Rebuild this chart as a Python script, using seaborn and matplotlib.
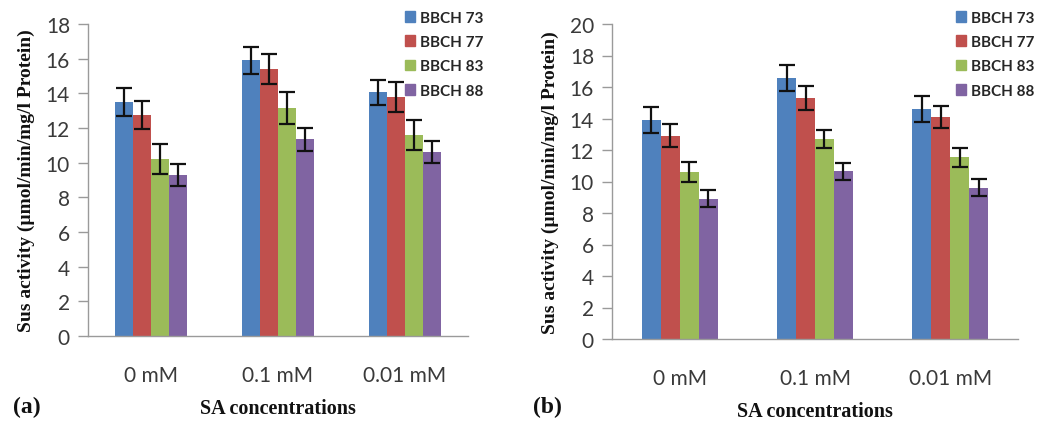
import numpy as np
import pandas as pd
import matplotlib
matplotlib.use("Agg")
import matplotlib.pyplot as plt
import seaborn as sns

categories = ["0 mM", "0.1 mM", "0.01 mM"]
stages = ["BBCH 73", "BBCH 77", "BBCH 83", "BBCH 88"]

# Panel (a) means and error bars (rows: stages, cols: categories)
a_b73 = [13.5, 15.9, 14.05]
a_b77 = [12.75, 15.4, 13.8]
a_b83 = [10.2, 13.15, 11.6]
a_b88 = [9.3, 11.35, 10.6]
a_e73 = [0.78, 0.8, 0.73]
a_e77 = [0.8, 0.85, 0.85]
a_e83 = [0.85, 0.9, 0.85]
a_e88 = [0.65, 0.65, 0.63]

# Panel (b)
b_b73 = [13.9, 16.55, 14.6]
b_b77 = [12.9, 15.3, 14.1]
b_b83 = [10.6, 12.7, 11.55]
b_b88 = [8.9, 10.65, 9.6]
b_e73 = [0.85, 0.83, 0.85]
b_e77 = [0.72, 0.74, 0.7]
b_e83 = [0.65, 0.6, 0.6]
b_e88 = [0.53, 0.53, 0.53]

colors = ["#4F81BD", "#C0504D", "#9BBB59", "#8064A2"]

sns.set_theme(style="white")
plt.rcParams["font.family"] = ["Lato", "DejaVu Sans"]

W, H = 1038, 427
fig = plt.figure(figsize=(W / 100, H / 100), dpi=100)


def make_df(vals):
    rows = []
    for s, v in zip(stages, vals):
        for c, x in zip(categories, v):
            rows.append({"cat": c, "stage": s, "val": x})
    return pd.DataFrame(rows)


def panel(rect, vals, errs, ymax, legend_anchor, width):
    ax = fig.add_axes([rect[0] / W, 1 - rect[3] / H, (rect[2] - rect[0]) / W, (rect[3] - rect[1]) / H])
    df = make_df(vals)
    sns.barplot(data=df, x="cat", y="val", hue="stage", order=categories, hue_order=stages,
                palette=colors, width=width, errorbar=None, saturation=1, ax=ax, legend=False,
                edgecolor="none", linewidth=0)
    for cont, e in zip(ax.containers, errs):
        xs = [p.get_x() + p.get_width() / 2 for p in cont.patches]
        ys = [p.get_height() for p in cont.patches]
        ax.errorbar(xs, ys, yerr=e, fmt="none", ecolor="#111111", elinewidth=1.6,
                    capsize=6, capthick=1.6)
    ax.set_xlim(-0.5, 2.5)
    ax.set_ylim(0, ymax)
    ax.set_yticks(np.arange(0, ymax + 1, 2))
    for sp in ["top", "right"]:
        ax.spines[sp].set_visible(False)
    for sp in ["left", "bottom"]:
        ax.spines[sp].set_color("#9a9a9a")
        ax.spines[sp].set_linewidth(1.0)
    ax.tick_params(axis="y", left=True, length=7, width=1, color="#9a9a9a", labelsize=15,
                   labelcolor="#3a3a3a", pad=6)
    ax.tick_params(axis="x", bottom=False, labelsize=15, labelcolor="#3a3a3a", pad=15)
    ax.set_xlabel("SA concentrations", fontfamily="Liberation Serif", fontweight="bold",
                  fontsize=14.5, color="#111111", labelpad=9)
    ax.set_ylabel("Sus activity (µmol/min/mg/l Protein)", fontfamily="Liberation Serif",
                  fontweight="bold", fontsize=14, color="#111111", labelpad=8)
    handles = [plt.Rectangle((0, 0), 1, 1, color=c) for c in colors]
    ax.legend(handles, stages, loc="upper left", bbox_to_anchor=legend_anchor,
              bbox_transform=fig.transFigure, frameon=False, handlelength=0.7,
              handleheight=0.7, handletextpad=0.3, labelspacing=0.68,
              prop={"family": "Lato", "weight": "bold", "size": 11}, borderpad=0)
    return ax


panel((88, 25, 468, 337), [a_b73, a_b77, a_b83, a_b88], [a_e73, a_e77, a_e83, a_e88],
      18, (397 / W, 1 - 4 / H), 0.57)
panel((612, 25, 1018, 340), [b_b73, b_b77, b_b83, b_b88], [b_e73, b_e77, b_e83, b_e88],
      20, (948 / W, 1 - 4 / H), 0.56)

fig.text(13 / W, 1 - 407 / H, "(a)", fontfamily="Liberation Serif", fontweight="bold",
         fontsize=17, va="center", ha="left", color="#111111")
fig.text(533 / W, 1 - 407 / H, "(b)", fontfamily="Liberation Serif", fontweight="bold",
         fontsize=17, va="center", ha="left", color="#111111")

fig.savefig("out.png", dpi=100)
